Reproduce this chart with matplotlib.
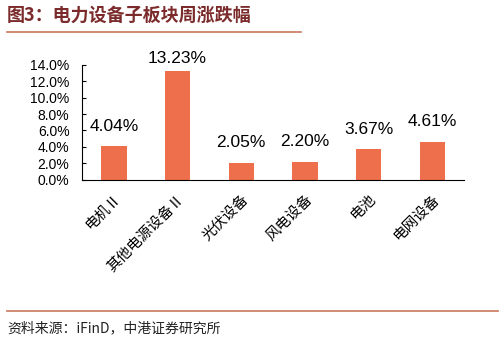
import matplotlib.pyplot as plt
from matplotlib.ticker import PercentFormatter
from matplotlib.lines import Line2D

categories = ['电机Ⅱ', '其他电源设备Ⅱ', '光伏设备', '风电设备', '电池', '电网设备']
changes = [4.04, 13.23, 2.05, 2.20, 3.67, 4.61]
y_ticks = [0, 2, 4, 6, 8, 10, 12, 14]

plt.rcParams['font.family'] = ['Liberation Sans', 'Noto Sans CJK SC', 'DejaVu Sans']

fig = plt.figure(figsize=(5.03, 3.4), dpi=100)
ax = fig.add_axes([0.163, 0.472, 0.76, 0.337])

bar_color = '#EE6F4C'
x = range(len(categories))
bars = ax.bar(x, changes, width=0.4, color=bar_color)

for i, v in enumerate(changes):
    off = 4 if v > 12 else 9
    ax.annotate(f'{v:.2f}%', (i, v), xytext=(0, off), textcoords='offset points',
                ha='center', va='bottom', fontsize=12.5, color='black')

ax.set_ylim(0, 14)
ax.set_xlim(-0.5, len(categories) - 0.5)
ax.set_yticks(y_ticks)
ax.yaxis.set_major_formatter(PercentFormatter(decimals=1))
ax.tick_params(axis='y', direction='in', length=3, labelsize=10, pad=9)
ax.tick_params(axis='x', length=0, pad=9)
ax.set_xticks(list(x))
ax.set_xticklabels(categories, rotation=45, ha='right', va='top', rotation_mode='anchor',
                   fontsize=10.5, family=['Noto Sans CJK SC', 'DejaVu Sans'])
ax.spines['top'].set_visible(False)
ax.spines['right'].set_visible(False)
for s in ['left', 'bottom']:
    ax.spines[s].set_linewidth(0.8)

# title and decorative rules
fig.text(0.014, 0.955, '图3：电力设备子板块周涨跌幅', fontsize=13, fontweight='bold',
         color='#7B2B2B', ha='left', va='center', family=['Noto Sans CJK SC', 'DejaVu Sans'])
line_color = '#C8775A'
fig.add_artist(Line2D([0.014, 0.598], [0.905, 0.905], color=line_color, lw=1.2))
fig.add_artist(Line2D([0.014, 0.99], [0.085, 0.085], color=line_color, lw=1.2))
fig.text(0.014, 0.035, '资料来源：iFinD，中港证券研究所', fontsize=10, style='italic',
         color='#222222', ha='left', va='center', family=['Noto Sans CJK SC', 'DejaVu Sans'])

fig.savefig('out.png', dpi=100)
